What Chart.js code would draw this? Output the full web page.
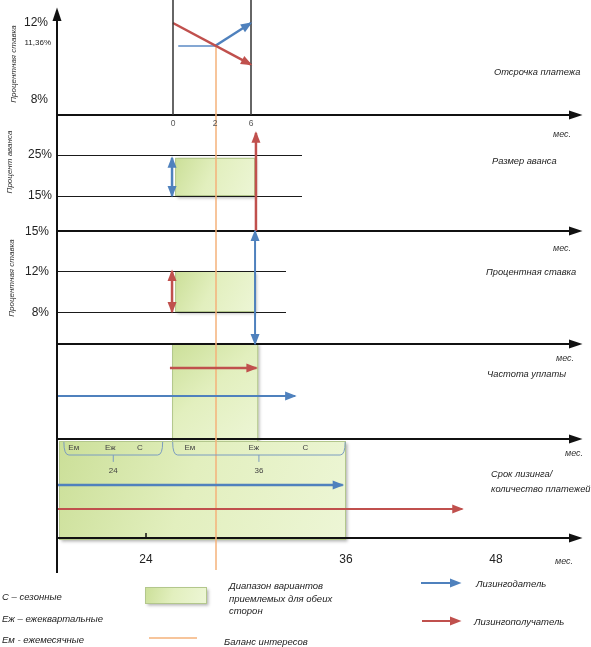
<!DOCTYPE html>
<html>
<head>
<meta charset="utf-8">
<script src="https://cdn.jsdelivr.net/npm/chart.js@4"></script>
<style>
  html, body { margin: 0; padding: 0; background: #fff; }
  canvas { display: block; }
</style>
</head>
<body>
<canvas id="leasing" width="591" height="647"></canvas>
<script>
// --- values ---
// Отсрочка платежа
const deferralMonths = [0, 2, 6];
const deferralRateTicks = [12, 11.36, 8];
const deferralRateLabels = ['12%', '11,36%', '8%'];
const lesseeDeferralMonths = [0, 6];
const lesseeDeferralRate = [12, 10.2];
const lessorBaseMonths = [0.25, 2];
const lessorDeferralMonths = [2, 6];
const lessorDeferralRate = [11.36, 12];
const balanceMonth = 2;
const balanceRate = 11.36;

// Размер аванса
const advanceTicks = [25, 15];
const acceptableMonths = [0.1, 6.45];
const acceptableAdvance = [15, 24.3];
const lessorAdvance = [15, 24.3];
const lesseeAdvance = [0, 30.4];

// Процентная ставка
const rateTicks = [15, 12, 8];
const acceptableRate = [8, 12];
const lesseeRate = [8, 12];
const lessorRate = [4, 15];

// Частота уплаты
const acceptableFreqMonths = [-0.05, 6.8];
const lesseeFreqMonths = [-0.16, 6.6];
const lessorFreqMonths = [-6, 10.9];

// Срок лизинга / количество платежей
const termTicks = [24, 36, 48];
const acceptableTerm = [18, 36];
const lessorTerm = [18, 35.8];
const lesseeTerm = [18, 45.3];
const paymentCodes = ['Ем', 'Еж', 'С'];
const braceTerms = [24, 36];

const BLUE = '#4f81bd';
const RED = '#c0504d';
const ORANGE = '#f5b27a';
const FONT = '"Liberation Sans", Arial, sans-serif';

// the sketch's axes are not evenly spaced, so each scale is piecewise linear
function interp(stops, v) {
  let i = 1;
  while (i < stops.length - 1 && v > stops[i][0]) i++;
  const [v0, p0] = stops[i - 1];
  const [v1, p1] = stops[i];
  return p0 + (v - v0) * (p1 - p0) / (v1 - v0);
}
class SketchScale extends Chart.LinearScale {
  getPixelForValue(value) {
    return interp(this.options.stops, value);
  }
}
SketchScale.id = 'sketch';
SketchScale.defaults = Chart.LinearScale.defaults;
Chart.register(SketchScale);

const pts = (xs, ys) => xs.map((x, i) => ({ x: x, y: ys[i] }));
const same = (v, n) => new Array(n).fill(v);

function line(data, x, y, color, width, arrow) {
  return {
    data: data, xAxisID: x, yAxisID: y, showLine: true,
    borderColor: color, borderWidth: width, pointRadius: 0,
    clip: false, arrow: arrow || null
  };
}

const datasets = [
  // отсрочка
  line(pts(same(deferralMonths[0], 2), [7, 12.7]), 'xMonth', 'yDef', '#333', 1.5),
  line(pts(same(deferralMonths[2], 2), [7, 12.7]), 'xMonth', 'yDef', '#333', 1.5),
  line(pts(lesseeDeferralMonths, lesseeDeferralRate), 'xMonth', 'yDef', RED, 2.5, 'end'),
  line(pts(lessorBaseMonths, same(balanceRate, 2)), 'xMonth', 'yDef', '#5b8ac4', 1.5),
  line(pts(lessorDeferralMonths, lessorDeferralRate), 'xMonth', 'yDef', BLUE, 2.5, 'end'),
  // аванс
  line(pts(same(-0.05, 2), lessorAdvance), 'xMonth', 'yAdv', BLUE, 2.5, 'both'),
  line(pts(same(6.55, 2), lesseeAdvance), 'xMonth', 'yAdv', RED, 2.5, 'end'),
  // ставка
  line(pts(same(-0.05, 2), lesseeRate), 'xMonth', 'yRate', RED, 2.5, 'both'),
  line(pts(same(6.45, 2), lessorRate), 'xMonth', 'yRate', BLUE, 2, 'both'),
  // частота
  line(pts(lesseeFreqMonths, same(2, 2)), 'xMonth', 'yFreq', RED, 2.5, 'end'),
  line(pts(lessorFreqMonths, same(1, 2)), 'xMonth', 'yFreq', BLUE, 2, 'end'),
  // срок
  line(pts(lessorTerm, same(2, 2)), 'xTerm', 'yTerm', BLUE, 2.5, 'end'),
  line(pts(lesseeTerm, same(1, 2)), 'xTerm', 'yTerm', RED, 2, 'end')
];

function arrowHead(ctx, x0, y0, x1, y1, color, len, half) {
  const a = Math.atan2(y1 - y0, x1 - x0);
  const c = Math.cos(a), s = Math.sin(a);
  ctx.save();
  ctx.fillStyle = color;
  ctx.beginPath();
  ctx.moveTo(x1 + 1.5 * c, y1 + 1.5 * s);
  ctx.lineTo(x1 - len * c + half * s, y1 - len * s - half * c);
  ctx.lineTo(x1 - len * c - half * s, y1 - len * s + half * c);
  ctx.closePath();
  ctx.fill();
  ctx.restore();
}

function text(ctx, str, x, y, size, opts) {
  opts = opts || {};
  ctx.save();
  ctx.font = (opts.italic ? 'italic ' : '') + (opts.bold ? 'bold ' : '') + size + 'px ' + FONT;
  ctx.fillStyle = opts.color || '#222';
  ctx.textAlign = opts.align || 'left';
  ctx.textBaseline = 'middle';
  if (opts.rotate) {
    ctx.translate(x, y);
    ctx.rotate(opts.rotate);
    ctx.fillText(str, 0, 0);
  } else {
    ctx.fillText(str, x, y);
  }
  ctx.restore();
}

function box(ctx, x0, y0, x1, y1) {
  const g = ctx.createLinearGradient(x0, y0, x1, y1);
  g.addColorStop(0, '#cbdf98');
  g.addColorStop(0.45, '#e2efbe');
  g.addColorStop(1, '#edf6d6');
  ctx.save();
  ctx.shadowColor = 'rgba(0,0,0,0.3)';
  ctx.shadowBlur = 3;
  ctx.shadowOffsetX = 1.5;
  ctx.shadowOffsetY = 1.5;
  ctx.fillStyle = g;
  ctx.fillRect(x0, y0, x1 - x0, y1 - y0);
  ctx.restore();
  ctx.save();
  ctx.strokeStyle = '#b3c78c';
  ctx.lineWidth = 1;
  ctx.strokeRect(x0 + 0.5, y0 + 0.5, x1 - x0 - 1, y1 - y0 - 1);
  ctx.restore();
}

function hline(ctx, x0, x1, y, color, width) {
  ctx.save();
  ctx.strokeStyle = color;
  ctx.lineWidth = width;
  ctx.beginPath();
  ctx.moveTo(x0, y);
  ctx.lineTo(x1, y);
  ctx.stroke();
  ctx.restore();
}

function brace(ctx, x0, x1, top, bottom, notch) {
  const mid = (x0 + x1) / 2;
  ctx.save();
  ctx.strokeStyle = '#7b9cc0';
  ctx.lineWidth = 1;
  ctx.beginPath();
  ctx.moveTo(x0, top);
  ctx.quadraticCurveTo(x0, bottom, x0 + 5, bottom);
  ctx.lineTo(x1 - 5, bottom);
  ctx.quadraticCurveTo(x1, bottom, x1, top);
  ctx.moveTo(mid, bottom);
  ctx.lineTo(mid, notch);
  ctx.stroke();
  ctx.restore();
}

const sketchPlugin = {
  id: 'sketch',
  beforeDatasetsDraw(chart) {
    const ctx = chart.ctx;
    const s = chart.scales;
    const xm = v => s.xMonth.getPixelForValue(v);
    const xt = v => s.xTerm.getPixelForValue(v);
    const axisX = xt(acceptableTerm[0]) - 1;
    const axisEnd = 581;

    // green ranges
    box(ctx, xm(acceptableMonths[0]), s.yAdv.getPixelForValue(acceptableAdvance[1]),
      xm(acceptableMonths[1]), s.yAdv.getPixelForValue(acceptableAdvance[0]));
    box(ctx, xm(acceptableMonths[0]), s.yRate.getPixelForValue(acceptableRate[1]),
      xm(acceptableMonths[1]), s.yRate.getPixelForValue(acceptableRate[0]));
    box(ctx, xm(acceptableFreqMonths[0]), s.yFreq.getPixelForValue(3),
      xm(acceptableFreqMonths[1]), s.yFreq.getPixelForValue(-0.07));
    box(ctx, xt(acceptableTerm[0]) + 1, s.yTerm.getPixelForValue(4),
      xt(acceptableTerm[1]), s.yTerm.getPixelForValue(-0.07));

    // thin grid lines
    advanceTicks.forEach(v => hline(ctx, axisX, 302, s.yAdv.getPixelForValue(v) + 0.5, '#1a1a1a', 1));
    rateTicks.slice(1).forEach(v => hline(ctx, axisX, 286, s.yRate.getPixelForValue(v) + 0.5, '#1a1a1a', 1));

    // axes
    const baselines = [
      s.yDef.getPixelForValue(7), s.yAdv.getPixelForValue(0), s.yRate.getPixelForValue(4),
      s.yFreq.getPixelForValue(0), s.yTerm.getPixelForValue(0)
    ];
    baselines.forEach(y => {
      hline(ctx, axisX, axisEnd - 8, y, '#111', 2);
      arrowHead(ctx, axisX, y, axisEnd, y, '#111', 12, 4.5);
    });
    ctx.save();
    ctx.strokeStyle = '#111';
    ctx.lineWidth = 2;
    ctx.beginPath();
    ctx.moveTo(axisX, 573);
    ctx.lineTo(axisX, 18);
    ctx.stroke();
    ctx.restore();
    arrowHead(ctx, axisX, 100, axisX, 9, '#111', 12, 4.5);

    // tick on term axis
    ctx.save();
    ctx.strokeStyle = '#111';
    ctx.lineWidth = 1.5;
    ctx.beginPath();
    ctx.moveTo(xt(termTicks[0]), baselines[4] - 5);
    ctx.lineTo(xt(termTicks[0]), baselines[4]);
    ctx.stroke();
    ctx.restore();

    // balance of interests
    ctx.save();
    ctx.strokeStyle = ORANGE;
    ctx.lineWidth = 1.5;
    ctx.beginPath();
    ctx.moveTo(xm(balanceMonth) + 1, s.yDef.getPixelForValue(balanceRate));
    ctx.lineTo(xm(balanceMonth) + 1, 570);
    ctx.stroke();
    ctx.restore();

    // braces over payment frequency for each term
    const spans = [[18.4, 25.0], [25.6, 35.95]];
    const codeAt = [0.1, 0.47, 0.77];
    braceTerms.forEach((term, i) => {
      const x0 = xt(spans[i][0]), x1 = xt(spans[i][1]);
      brace(ctx, x0, x1, s.yTerm.getPixelForValue(3.93), s.yTerm.getPixelForValue(3), s.yTerm.getPixelForValue(2.77));
      paymentCodes.forEach((c, k) => text(ctx, c, x0 + (x1 - x0) * codeAt[k], s.yTerm.getPixelForValue(3.5), 8, { align: 'center', color: '#444' }));
      text(ctx, String(term), (x0 + x1) / 2, s.yTerm.getPixelForValue(2.47), 8, { align: 'center', color: '#444' });
    });

    // left tick labels
    deferralRateTicks.forEach((v, i) => text(ctx, deferralRateLabels[i], i === 1 ? 51 : 48,
      s.yDef.getPixelForValue(v) + (i === 1 ? -3 : 0), i === 1 ? 8 : 12, { align: 'right' }));
    advanceTicks.forEach(v => text(ctx, v + '%', 52, s.yAdv.getPixelForValue(v), 12, { align: 'right' }));
    rateTicks.forEach(v => text(ctx, v + '%', 49, s.yRate.getPixelForValue(v) + 1, 12, { align: 'right' }));

    // rotated axis titles
    const up = -Math.PI / 2;
    text(ctx, 'Процентная ставка', 14, 64, 8, { italic: true, align: 'center', rotate: up, color: '#333' });
    text(ctx, 'Процент аванса', 10, 162, 8, { italic: true, align: 'center', rotate: up, color: '#333' });
    text(ctx, 'Процентная ставка', 12, 278, 8, { italic: true, align: 'center', rotate: up, color: '#333' });

    // month ticks of the deferral axis
    deferralMonths.forEach(m => text(ctx, String(m), xm(m), 124, 8.5, { align: 'center', color: '#555' }));
    termTicks.forEach(t => text(ctx, String(t), xt(t), 560, 12, { align: 'center' }));

    // units
    [[553, 134], [553, 248], [556, 358], [565, 453], [555, 561]].forEach(p =>
      text(ctx, 'мес.', p[0], p[1], 9, { italic: true, align: 'left', color: '#333' }));

    // panel names
    const pn = 9.3;
    text(ctx, 'Отсрочка платежа', 494, 72, pn, { italic: true });
    text(ctx, 'Размер аванса', 492, 161, pn, { italic: true });
    text(ctx, 'Процентная ставка', 486, 272, pn, { italic: true });
    text(ctx, 'Частота уплаты', 487, 374, pn, { italic: true });
    text(ctx, 'Срок лизинга/', 491, 474, pn, { italic: true });
    text(ctx, 'количество платежей', 491, 489, pn, { italic: true });

    // key
    text(ctx, 'С – сезонные', 2, 597, 9.5, { italic: true });
    text(ctx, 'Еж – ежеквартальные', 2, 619, 9.5, { italic: true });
    text(ctx, 'Ем - ежемесячные', 2, 640, 9.5, { italic: true });
    box(ctx, 145, 587, 207, 604);
    text(ctx, 'Диапазон вариантов', 229, 586, 9.5, { italic: true });
    text(ctx, 'приемлемых для обеих', 229, 599, 9.5, { italic: true });
    text(ctx, 'сторон', 229, 611, 9.5, { italic: true });
    hline(ctx, 149, 197, 638, ORANGE, 1.5);
    text(ctx, 'Баланс интересов', 224, 642, 9.5, { italic: true });
    hline(ctx, 421, 452, 583, BLUE, 2);
    arrowHead(ctx, 421, 583, 460, 583, BLUE, 10, 4.5);
    text(ctx, 'Лизингодатель', 476, 584, 9.5, { italic: true });
    hline(ctx, 422, 452, 621, RED, 2);
    arrowHead(ctx, 422, 621, 460, 621, RED, 10, 4.5);
    text(ctx, 'Лизингополучатель', 474, 622, 9.5, { italic: true });
  },
  afterDatasetsDraw(chart) {
    const ctx = chart.ctx;
    chart.data.datasets.forEach((ds, i) => {
      if (!ds.arrow) return;
      const p = chart.getDatasetMeta(i).data;
      const a = p[p.length - 2], b = p[p.length - 1];
      arrowHead(ctx, a.x, a.y, b.x, b.y, ds.borderColor, 10, 4.5);
      if (ds.arrow === 'both') arrowHead(ctx, b.x, b.y, p[0].x, p[0].y, ds.borderColor, 10, 4.5);
    });
  }
};

const hidden = { display: false };
new Chart('leasing', {
  type: 'scatter',
  data: { datasets: datasets },
  options: {
    responsive: false,
    animation: false,
    events: [],
    layout: { padding: 0 },
    plugins: { legend: hidden, tooltip: { enabled: false } },
    scales: {
      xMonth: { type: 'sketch', axis: 'x', display: false, stops: [[-6, 58], [0, 173], [2, 215], [6, 251]] },
      xTerm: { type: 'sketch', axis: 'x', display: false, stops: [[18, 58], [24, 146], [36, 346], [48, 496]] },
      yDef: { type: 'sketch', axis: 'y', display: false, stops: [[7, 115], [8, 100], [11.36, 46], [12, 23]] },
      yAdv: { type: 'sketch', axis: 'y', display: false, stops: [[0, 231], [15, 196], [25, 155]] },
      yRate: { type: 'sketch', axis: 'y', display: false, stops: [[4, 344], [8, 312], [12, 271], [15, 231]] },
      yFreq: { type: 'sketch', axis: 'y', display: false, stops: [[0, 439], [1, 396], [2, 368], [3, 343]] },
      yTerm: { type: 'sketch', axis: 'y', display: false, stops: [[0, 538], [1, 509], [2, 485], [3, 455], [4, 441]] }
    }
  },
  plugins: [sketchPlugin]
});
</script>
</body>
</html>
